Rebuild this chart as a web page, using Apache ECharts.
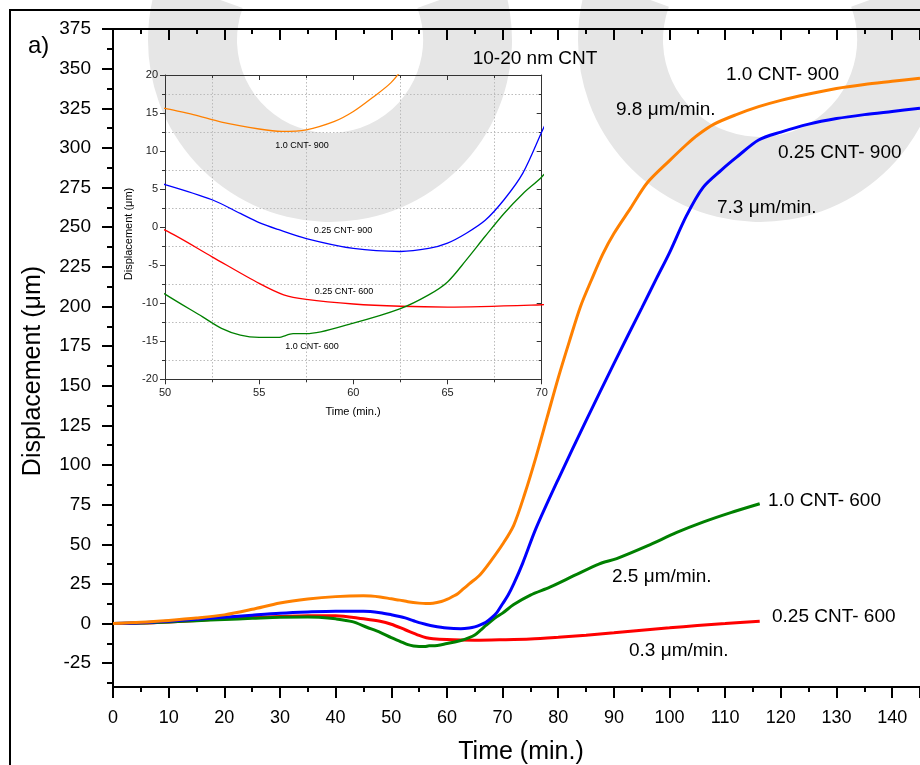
<!DOCTYPE html>
<html><head><meta charset="utf-8">
<script src="https://cdn.jsdelivr.net/npm/echarts@6/dist/echarts.min.js"></script>
<style>html,body{margin:0;padding:0;background:#fff}#c{width:920px;height:765px}</style>
</head><body><div id="c"></div>
<script>
// ---- data (time in min., displacement in µm) ----
const tOrange = [0,5,10,15,20,25,30,35,40,45,48,50,51.5,53,55,56.2,57.5,59,60,61,62,63,64,66,68,70,72,74,76,78,80,82,84,86,88,90,93,96,100,103,105,108,112,116,120,125,130,135,140,145];
const vOrange = [0,0.8,2,3.5,5.5,9,13,15.5,17,17.5,16.8,15.6,14.8,13.8,12.9,12.6,12.8,13.9,15.2,17,19,22,25,31,40,50,62,82,105,130,155,178,200,217,233,246,262,278,292,302,308,315,321,326,330,334,337.5,340,342,344];
const tBlue = [0,5,10,15,20,25,30,35,40,45,48,50,52.5,54,55,56,57.5,60,62.5,64,65,66,67,68,69,70,71,72,73.6,76,80,85,90,95,97.7,100,103,106,109.3,112,116,120,125,130,135,140,145];
const vBlue = [0,0.5,1.5,2.7,4,5.3,6.5,7.3,7.8,7.8,6.9,5.6,3.6,1.8,0.6,-0.3,-1.5,-2.8,-3.2,-2.8,-2.1,-0.8,0.9,3.6,7.1,12.5,18,25,38,60,91,128,164,199,218,234,257,275,286,294,305,310,315,318.5,321,323,325];
const tGreen = [0,5,10,15,20,25,30,35,37,40,43,45.6,48,50,52,53,54,55,56,56.8,57.5,60,62.5,64,65,66,67,68,69,70,72,75,78.5,83,87.4,90.5,96,101.3,106,111,116.2];
const vGreen = [0,0.3,1,1.8,2.6,3.3,4,4.2,4,3,1.2,-2.3,-5.5,-8.8,-11.8,-13.3,-14.2,-14.5,-14.5,-14,-14,-12.6,-10.7,-8.9,-7.2,-4.3,-1.2,1.8,4.4,6.6,12,18,23,30.5,37.7,41,49,57.5,64,70,75.6];
const tRed = [0,5,10,15,20,25,30,35,40,45,48,50,52.5,55,56.3,57.5,60,62.5,65,70,75,80,85,90,95,100,105,110,116.2];
const vRed = [0,0.3,1,2,3,3.8,4.5,5,5,3,1.5,-0.4,-3.9,-7.4,-8.9,-9.5,-10.1,-10.4,-10.5,-10.2,-9.7,-8.6,-7.3,-5.8,-4.2,-2.7,-1.2,0,1.5];

const yMajorTicks = [-25,0,25,50,75,100,125,150,175,200,225,250,275,300,325,350,375];
const yMinorTicks = [-37.5,-12.5,12.5,37.5,62.5,87.5,112.5,137.5,162.5,187.5,212.5,237.5,262.5,287.5,312.5,337.5,362.5];

const seriesNames = ['0.25 CNT- 600','1.0 CNT- 600','0.25 CNT- 900','1.0 CNT- 900'];
const seriesColors = ['#ff0000','#008000','#0000ff','#ff8000'];
const seriesT = [tRed,tGreen,tBlue,tOrange];
const seriesV = [vRed,vGreen,vBlue,vOrange];

const FONT = "'Liberation Sans', Arial, Helvetica, sans-serif";
const pairs = (t,v) => t.map((x,i)=>[x,v[i]]);

const chart = echarts.init(document.getElementById('c'), null, {renderer:'canvas'});

const blackLine = {lineStyle:{color:'#000',width:2}};
const insetLine = {lineStyle:{color:'#333',width:1}};

const series = [];
seriesNames.forEach((n,i)=>{
  series.push({name:n, type:'line', xAxisIndex:0, yAxisIndex:0, data:pairs(seriesT[i],seriesV[i]),
    showSymbol:false, smooth:0.3, lineStyle:{color:seriesColors[i],width:3}, itemStyle:{color:seriesColors[i]}, z:3+i, silent:true, animation:false});
  series.push({name:n+' inset', type:'line', xAxisIndex:2, yAxisIndex:2, data:pairs(seriesT[i],seriesV[i]),
    showSymbol:false, smooth:0.3, clip:true, lineStyle:{color:seriesColors[i],width:1.3}, itemStyle:{color:seriesColors[i]}, z:3+i, silent:true, animation:false});
});

function txt(text,x,y,size,opts){
  return Object.assign({type:'text', x:x, y:y, z:50, silent:true,
    style:{text:text, fontSize:size, fontFamily:FONT, fill:'#000', align:(opts&&opts.align)||'left', verticalAlign:'middle'}}, opts&&opts.extra||{});
}

// faint background watermark bands
const WM = '#e6e6e6';
const watermark = [
  {type:'sector', shape:{cx:330, cy:40, r0:93, r:182, startAngle:-0.35, endAngle:Math.PI+0.35}, style:{fill:WM}, z:0, silent:true},
  {type:'sector', shape:{cx:760, cy:40, r0:97, r:182, startAngle:-0.35, endAngle:Math.PI+0.35}, style:{fill:WM}, z:0, silent:true}
];

const option = {
  animation:false,
  backgroundColor:'#fff',
  grid:[
    {left:113, top:29, right:0, bottom:78, outerBoundsMode:'none', containLabel:false},
    {left:165, top:75, width:376.7, height:304.3, outerBoundsMode:'none', containLabel:false}
  ],
  xAxis:[
    {gridIndex:0, type:'value', position:'bottom', min:0, max:145, interval:10,
     axisLine:{show:true, onZero:false, ...blackLine},
     axisTick:{show:true, inside:false, length:11, lineStyle:{color:'#000',width:2}},
     minorTick:{show:true, splitNumber:2, length:5, lineStyle:{color:'#000',width:2}},
     axisLabel:{show:true, fontSize:18, fontFamily:FONT, color:'#000', margin:22, showMaxLabel:false},
     splitLine:{show:false}},
    {gridIndex:0, type:'value', position:'top', min:0, max:145, interval:10,
     axisLine:{show:true, onZero:false, ...blackLine},
     axisTick:{show:true, inside:true, length:11, lineStyle:{color:'#000',width:2}},
     minorTick:{show:true, splitNumber:2, length:5, lineStyle:{color:'#000',width:2}},
     axisLabel:{show:false}, splitLine:{show:false}},
    {gridIndex:1, type:'value', position:'bottom', min:50, max:70, interval:5,
     axisLine:{show:true, onZero:false, ...insetLine},
     axisTick:{show:true, inside:false, length:5, lineStyle:{color:'#333',width:1}},
     minorTick:{show:true, splitNumber:2, length:3, lineStyle:{color:'#333',width:1}},
     axisLabel:{show:true, fontSize:11, fontFamily:FONT, color:'#222', margin:8},
     splitLine:{show:false},
     minorSplitLine:{show:true, lineStyle:{color:'#bbb', width:1, type:[1.5,2]}}},
    {gridIndex:1, type:'value', position:'top', min:50, max:70, interval:5,
     axisLine:{show:true, onZero:false, ...insetLine},
     axisTick:{show:true, inside:true, length:5, lineStyle:{color:'#333',width:1}},
     minorTick:{show:true, splitNumber:2, length:3, lineStyle:{color:'#333',width:1}},
     axisLabel:{show:false}, splitLine:{show:false}}
  ],
  yAxis:[
    {gridIndex:0, type:'value', position:'left', min:-40, max:375,
     axisLine:{show:true, onZero:false, ...blackLine},
     axisTick:{show:true, inside:false, length:11, customValues:yMajorTicks, lineStyle:{color:'#000',width:2}},
     axisLabel:{show:true, fontSize:19, fontFamily:FONT, color:'#000', margin:22, customValues:yMajorTicks},
     splitLine:{show:false}},
    {gridIndex:0, type:'value', position:'left', min:-40, max:375,
     axisLine:{show:false},
     axisTick:{show:true, inside:false, length:6, customValues:yMinorTicks, lineStyle:{color:'#000',width:2}},
     axisLabel:{show:false}, splitLine:{show:false}},
    {gridIndex:1, type:'value', position:'left', min:-20, max:20, interval:5,
     axisLine:{show:true, onZero:false, ...insetLine},
     axisTick:{show:true, inside:false, length:5, lineStyle:{color:'#333',width:1}},
     minorTick:{show:true, splitNumber:2, length:3, lineStyle:{color:'#333',width:1}},
     axisLabel:{show:true, fontSize:11, fontFamily:FONT, color:'#222', margin:7},
     splitLine:{show:false},
     minorSplitLine:{show:true, lineStyle:{color:'#bbb', width:1, type:[1.5,2]}}},
    {gridIndex:1, type:'value', position:'right', min:-20, max:20, interval:5,
     axisLine:{show:true, onZero:false, ...insetLine},
     axisTick:{show:true, inside:true, length:5, lineStyle:{color:'#333',width:1}},
     minorTick:{show:true, splitNumber:2, length:3, lineStyle:{color:'#333',width:1}},
     axisLabel:{show:false}, splitLine:{show:false}}
  ],
  series: series,
  graphic: watermark.concat([
    {type:'rect', shape:{x:10,y:10,width:1000,height:1000}, style:{fill:'none', stroke:'#000', lineWidth:2}, z:1, silent:true},
    txt('a)', 28, 46, 24),
    txt('Displacement (\u03bcm)', 33, 371, 25, {align:'center', extra:{rotation:Math.PI/2}}),
    txt('Time (min.)', 521, 752, 25, {align:'center'}),
    txt('10-20 nm CNT', 535, 59, 19, {align:'center'}),
    txt('1.0 CNT- 900', 726, 75, 19),
    txt('9.8 \u03bcm/min.', 616, 110, 19),
    txt('0.25 CNT- 900', 778, 153, 19),
    txt('7.3 \u03bcm/min.', 717, 208, 19),
    txt('1.0 CNT- 600', 768, 501, 19),
    txt('2.5 \u03bcm/min.', 612, 577, 19),
    txt('0.25 CNT- 600', 772, 617, 19),
    txt('0.3 \u03bcm/min.', 629, 651, 19),
    txt('1.0 CNT- 900', 302, 146, 9, {align:'center'}),
    txt('0.25 CNT- 900', 343, 231, 9, {align:'center'}),
    txt('0.25 CNT- 600', 344, 292, 9, {align:'center'}),
    txt('1.0 CNT- 600', 312, 347, 9, {align:'center'}),
    txt('Time (min.)', 353, 412, 11, {align:'center'}),
    txt('Displacement (\u03bcm)', 129, 234, 11, {align:'center', extra:{rotation:Math.PI/2}})
  ])
};
chart.setOption(option);
</script>
</body></html>
